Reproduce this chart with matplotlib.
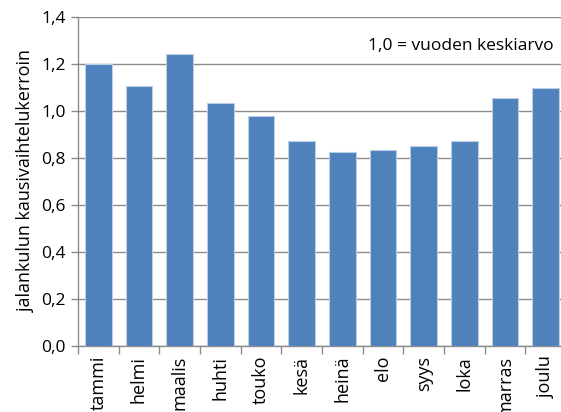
import numpy as np
import matplotlib
matplotlib.use("Agg")
import matplotlib.pyplot as plt

months = ['tammi', 'helmi', 'maalis', 'huhti', 'touko', 'kesä',
          'heinä', 'elo', 'syys', 'loka', 'marras', 'joulu']
kerroin = [1.20, 1.106, 1.241, 1.033, 0.978, 0.871,
           0.824, 0.834, 0.851, 0.872, 1.055, 1.099]
yticks = [0.0, 0.2, 0.4, 0.6, 0.8, 1.0, 1.2, 1.4]

plt.rcParams['font.family'] = ['Open Sans', 'DejaVu Sans']

fig = plt.figure(figsize=(5.61, 4.12), dpi=100)
ax = fig.add_axes([0.139, 0.160, 0.870, 0.799])

x = np.arange(len(months))
ax.bar(x, kerroin, width=0.66, color='#4F81BD', edgecolor='#B9CDE5',
       linewidth=0.8, zorder=3)

ax.set_xlim(-0.5, len(months) - 0.5)
ax.set_ylim(0, 1.4)
ax.set_yticks(yticks)
ax.set_yticklabels([f"{v:.1f}".replace('.', ',') for v in yticks], fontsize=12.5)
ax.yaxis.grid(True, color='#8C8C8C', linewidth=1.0, zorder=0)

ax.set_xticks(x)
ax.set_xticklabels(months, rotation=90, fontsize=13)
ax.tick_params(axis='x', length=0, pad=7)
ax.set_xticks(np.arange(-0.5, len(months), 1), minor=True)
ax.tick_params(axis='x', which='minor', length=6, color='#8C8C8C', width=1.0)
ax.tick_params(axis='y', length=5, color='#8C8C8C', width=1.0, pad=4)

for s in ['top', 'right']:
    ax.spines[s].set_visible(False)
ax.spines['left'].set_color('#8C8C8C')
ax.spines['bottom'].set_color('#8C8C8C')
ax.spines['left'].set_linewidth(1.0)
ax.spines['bottom'].set_linewidth(1.0)

ax.set_ylabel('jalankulun kausivaihtelukerroin', fontsize=13, labelpad=4)
ax.text(11.2, 1.275, '1,0 = vuoden keskiarvo', ha='right', va='center',
        fontsize=12.5)

fig.savefig('out.png', dpi=100)
